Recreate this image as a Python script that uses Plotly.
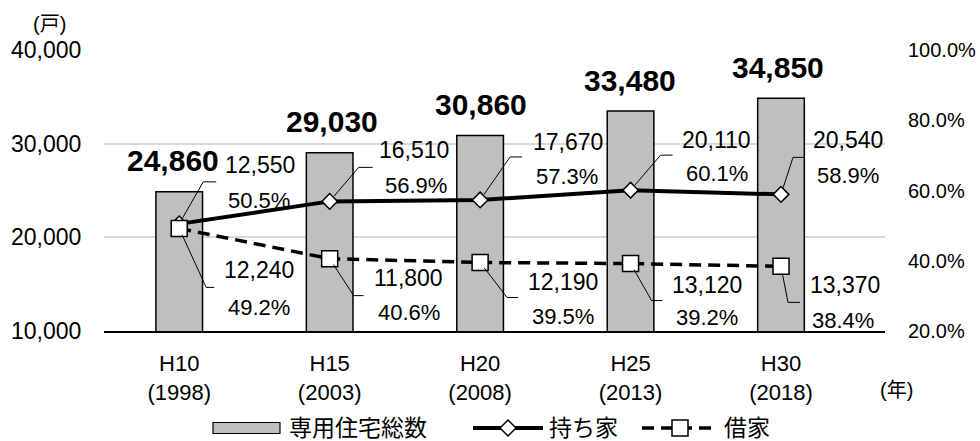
import math
import plotly.graph_objects as go

# ---------------- data ----------------
categories = ["H10<br>(1998)", "H15<br>(2003)", "H20<br>(2008)", "H25<br>(2013)", "H30<br>(2018)"]
total_units = [24860, 29030, 30860, 33480, 34850]
owner_units = [12550, 16510, 17670, 20110, 20540]
owner_pct = [50.5, 56.9, 57.3, 60.1, 58.9]
rental_units = [12240, 11800, 12190, 13120, 13370]
rental_pct = [49.2, 40.6, 39.5, 39.2, 38.4]
left_ticks = [10000, 20000, 30000, 40000]
right_ticks = [20, 40, 60, 80, 100]
right_tick_labels = ["20.0%", "40.0%", "60.0%", "80.0%", "100.0%"]
series_names = ["専用住宅総数", "持ち家", "借家"]
left_unit = "(戸)"
x_unit = "(年)"

# ---------------- layout / style ----------------
W, H = 980, 441
ML, MR, MT, MB = 104, 95, 50, 110
PX0, PY1 = ML, H - MB            # plot-area left / bottom in pixels
PW, PH = W - ML - MR, H - MT - MB
FONT = "Liberation Sans, Noto Sans CJK JP, sans-serif"
BAR_FILL = "#bfbfbf"
GRID = "#d9d9d9"


def px(x):
    return (x - PX0) / PW


def py(y):
    return (PY1 - y) / PH


# label placement offsets in pixels (dx, up) relative to each marker / bar
total_xshift = [-6, 2, 1, -1, -3]
owner_leader = [(24, 42, 37), (29, 34, 43), (30, 43, 42), (30, 35, 42), (12, 37, 23)]
owner_label_off = [(81, 59, 80, 23), (84, 51, 86, 16), (88, 58, 87, 23), (86, 50, 86, 17), (67, 54, 67, 19)]
rental_leader = [(27, -59, 35), (24, -37, 34), (27, -35, 38), (21, -37, 32), (7, -36, 19)]
rental_label_off = [(80, -42, 80, -79), (79, -19, 79, -54), (83, -19, 83, -54), (76, -21, 76, -54), (64, -19, 62, -54)]

fig = go.Figure()
fig.add_trace(go.Bar(
    x=categories, y=total_units, name=series_names[0], width=0.31,
    marker=dict(color=BAR_FILL, line=dict(color="#000000", width=1.5)),
    showlegend=False, yaxis="y",
))
fig.add_trace(go.Scatter(
    x=categories, y=owner_pct, name=series_names[1], mode="lines+markers", yaxis="y2",
    line=dict(color="#000000", width=4),
    marker=dict(symbol="diamond", size=12, color="#ffffff", line=dict(color="#000000", width=1.5)),
    showlegend=False,
))
fig.add_trace(go.Scatter(
    x=categories, y=rental_pct, name=series_names[2], mode="lines+markers", yaxis="y2",
    line=dict(color="#000000", width=3.5, dash="12px,7px"),
    marker=dict(symbol="square", size=16, color="#ffffff", line=dict(color="#000000", width=1.5)),
    showlegend=False,
))

annotations = []
shapes = []

# totals above bars
for c, v, xs in zip(categories, total_units, total_xshift):
    annotations.append(dict(
        x=c, y=v, xref="x", yref="y", text=f"<b>{v:,}</b>", showarrow=False,
        xanchor="center", yanchor="middle", yshift=31, xshift=xs,
        font=dict(family=FONT, size=30, color="#000000"),
    ))


def add_labels(units, pcts, leaders, offs):
    for c, u, p, (ex, ey, hx), (dx1, up1, dx2, up2) in zip(categories, units, pcts, leaders, offs):
        d = math.hypot(ex, ey)
        sx, sy = ex / d * 7, ey / d * 7
        shapes.append(dict(
            type="path", xref="x", yref="y2", xsizemode="pixel", ysizemode="pixel",
            xanchor=c, yanchor=p,
            path=f"M{sx:.1f},{sy:.1f} L{ex},{ey} L{hx},{ey}",
            line=dict(color="#000000", width=1), layer="above",
        ))
        annotations.append(dict(
            x=c, y=p, xref="x", yref="y2", text=f"{u:,}", showarrow=False,
            xanchor="center", yanchor="middle", xshift=dx1, yshift=up1,
            font=dict(family=FONT, size=23, color="#000000"),
        ))
        annotations.append(dict(
            x=c, y=p, xref="x", yref="y2", text=f"{p:.1f}%", showarrow=False,
            xanchor="center", yanchor="middle", xshift=dx2, yshift=up2,
            font=dict(family=FONT, size=22, color="#000000"),
        ))


add_labels(owner_units, owner_pct, owner_leader, owner_label_off)
add_labels(rental_units, rental_pct, rental_leader, rental_label_off)

# unit labels
annotations.append(dict(x=px(49), y=py(24), xref="paper", yref="paper", text=left_unit,
                        showarrow=False, xanchor="center", yanchor="middle",
                        font=dict(family=FONT, size=20, color="#000000")))
annotations.append(dict(x=px(897), y=py(390), xref="paper", yref="paper", text=x_unit,
                        showarrow=False, xanchor="center", yanchor="middle",
                        font=dict(family=FONT, size=20, color="#000000")))

# custom legend
LY = 428
shapes.append(dict(type="rect", xref="paper", yref="paper",
                   x0=px(213), x1=px(280), y0=py(LY + 5.5), y1=py(LY - 5.5),
                   fillcolor=BAR_FILL, line=dict(color="#000000", width=1.2), layer="above"))
shapes.append(dict(type="line", xref="paper", yref="paper",
                   x0=px(473), x1=px(543), y0=py(LY), y1=py(LY),
                   line=dict(color="#000000", width=4), layer="above"))
shapes.append(dict(type="path", xref="paper", yref="paper", xsizemode="pixel", ysizemode="pixel",
                   xanchor=px(508), yanchor=py(LY), path="M-8,0 L0,8 L8,0 L0,-8 Z",
                   fillcolor="#ffffff", line=dict(color="#000000", width=1.5), layer="above"))
shapes.append(dict(type="line", xref="paper", yref="paper",
                   x0=px(642), x1=px(718), y0=py(LY), y1=py(LY),
                   line=dict(color="#000000", width=3.5, dash="12px,7px"), layer="above"))
shapes.append(dict(type="path", xref="paper", yref="paper", xsizemode="pixel", ysizemode="pixel",
                   xanchor=px(680), yanchor=py(LY), path="M-8,-8 L-8,8 L8,8 L8,-8 Z",
                   fillcolor="#ffffff", line=dict(color="#000000", width=1.5), layer="above"))
for name, xl in zip(series_names, [287, 547, 722]):
    annotations.append(dict(x=px(xl), y=py(LY), xref="paper", yref="paper", text=name,
                            showarrow=False, xanchor="left", yanchor="middle",
                            font=dict(family=FONT, size=23, color="#000000")))

fig.update_layout(
    width=W, height=H, margin=dict(l=ML, r=MR, t=MT, b=MB, autoexpand=False),
    paper_bgcolor="#ffffff", plot_bgcolor="#ffffff",
    font=dict(family=FONT, size=21, color="#000000"),
    showlegend=False,
    xaxis=dict(type="category", showline=True, linecolor="#000000", linewidth=1.5,
               ticks="outside", ticklen=12, tickcolor="rgba(0,0,0,0)", showgrid=False,
               automargin=False,
               tickfont=dict(family=FONT, size=22, color="#000000")),
    yaxis=dict(range=[10000, 40000], tickvals=left_ticks, tickformat=",d",
               showgrid=True, gridcolor=GRID, gridwidth=1.5, zeroline=False,
               ticks="outside", ticklen=17, tickcolor="rgba(0,0,0,0)", automargin=False,
               tickfont=dict(family=FONT, size=23, color="#000000")),
    yaxis2=dict(range=[20, 100], tickmode="array", tickvals=right_ticks, ticktext=right_tick_labels,
                overlaying="y", side="right", showgrid=False, zeroline=False,
                ticks="outside", ticklen=18, tickcolor="rgba(0,0,0,0)", automargin=False,
                tickfont=dict(family=FONT, size=20, color="#000000")),
    annotations=annotations, shapes=shapes,
)

# let the 980x441 figure fill the window exactly (no default body margin / scrollbars)
fig.write_html(
    "out.html",
    config={"displayModeBar": False},
    post_script="document.body.style.margin='0px';document.body.style.overflow='hidden';",
)
